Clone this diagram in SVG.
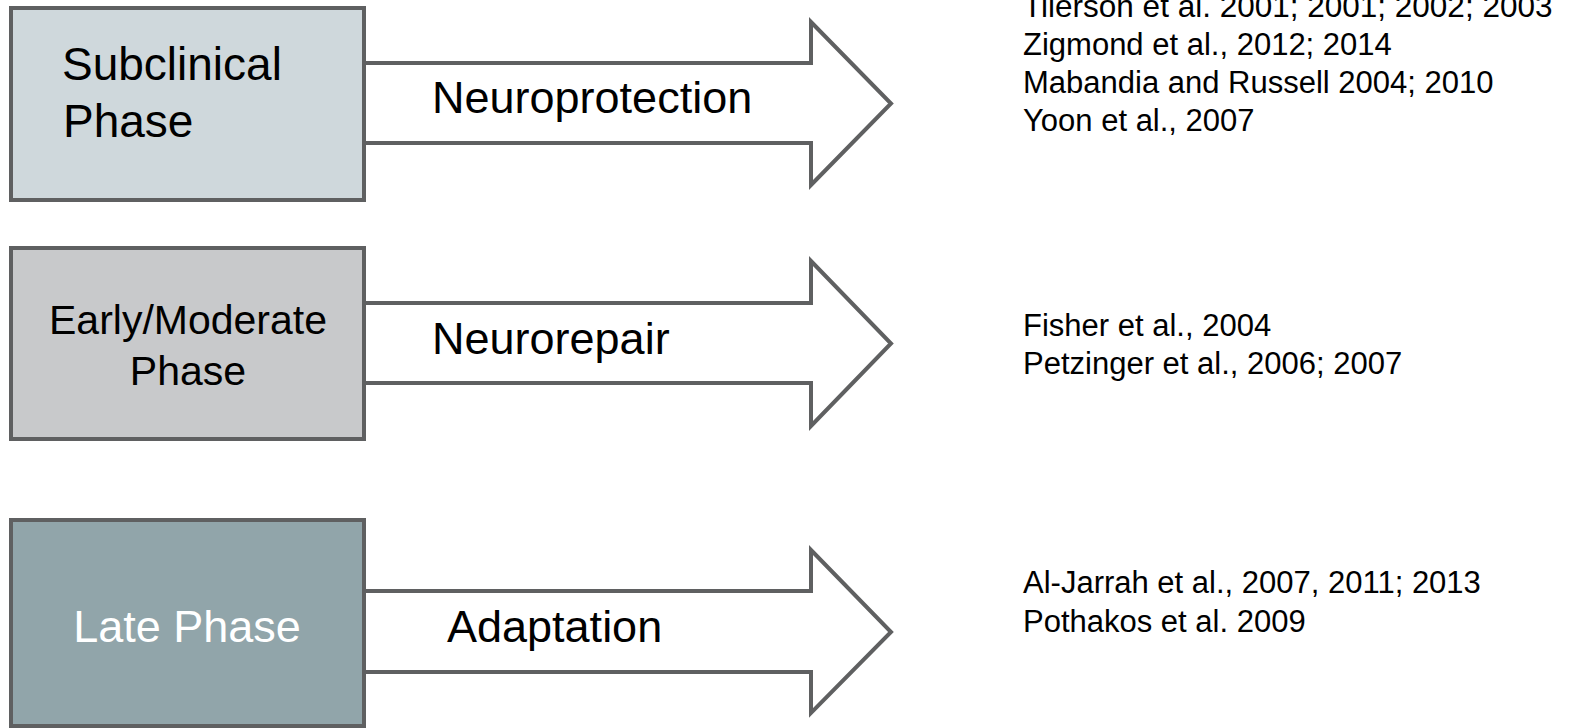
<svg xmlns="http://www.w3.org/2000/svg" width="1575" height="728" viewBox="0 0 1575 728">
  <style>
    .box { stroke: #5f6061; stroke-width: 4; }
    .arrow { fill: #ffffff; stroke: #5f6061; stroke-width: 4; stroke-linejoin: miter; }
    text { font-family: "Liberation Sans", Arial, sans-serif; fill: #000000; }
    .phase { font-size: 46px; }
    .label { font-size: 45px; }
    .ref { font-size: 31px; }
  </style>
  <rect width="1575" height="728" fill="#ffffff"/>

  <!-- block arrows between the phases and their references -->
  <g id="connectors">
    <polygon class="arrow" points="364,63 811,63 811,22 891,103.5 811,185 811,143 364,143"/>
    <polygon class="arrow" points="364,303 811,303 811,261 891,343.5 811,426 811,383 364,383"/>
    <polygon class="arrow" points="364,591 811,591 811,550 891,632 811,713 811,672 364,672"/>
    <text class="label" x="432" y="113">Neuroprotection</text>
    <text class="label" x="432" y="354">Neurorepair</text>
    <text class="label" x="447" y="642">Adaptation</text>
  </g>

  <g id="subclinical">
    <rect class="box" x="11" y="8" width="353" height="192" fill="#cfd8dc"/>
    <text class="phase" x="62" y="80">Subclinical</text>
    <text class="phase" x="63" y="137">Phase</text>
  </g>

  <g id="early-moderate">
    <rect class="box" x="11" y="248" width="353" height="191" fill="#c8c9cb"/>
    <text class="phase" x="188" y="334" text-anchor="middle" style="font-size:41px">Early/Moderate</text>
    <text class="phase" x="188" y="385" text-anchor="middle" style="font-size:41px">Phase</text>
  </g>

  <g id="late">
    <rect class="box" x="11" y="520" width="353" height="206" fill="#91a5aa"/>
    <text class="phase" x="187" y="642" text-anchor="middle" style="font-size:45px; fill:#ffffff">Late Phase</text>
  </g>

  <g id="refs-neuroprotection">
    <text class="ref" x="1023" y="17" style="font-size:31.5px">Tilerson et al. 2001; 2001; 2002; 2003</text>
    <text class="ref" x="1023" y="55">Zigmond et al., 2012; 2014</text>
    <text class="ref" x="1023" y="93">Mabandia and Russell 2004; 2010</text>
    <text class="ref" x="1023" y="131">Yoon et al., 2007</text>
  </g>

  <g id="refs-neurorepair">
    <text class="ref" x="1023" y="336">Fisher et al., 2004</text>
    <text class="ref" x="1023" y="374">Petzinger et al., 2006; 2007</text>
  </g>

  <g id="refs-adaptation">
    <text class="ref" x="1023" y="593">Al-Jarrah et al., 2007, 2011; 2013</text>
    <text class="ref" x="1023" y="632">Pothakos et al. 2009</text>
  </g>
</svg>
